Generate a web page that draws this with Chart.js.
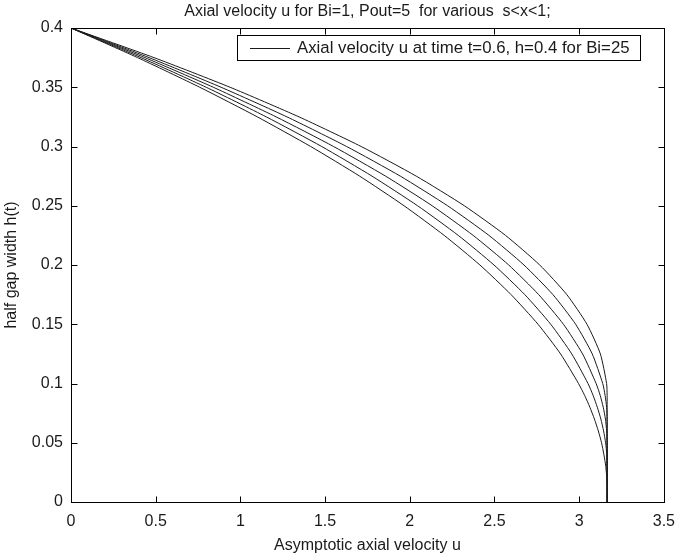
<!DOCTYPE html>
<html>
<head>
<meta charset="utf-8">
<script src="https://cdn.jsdelivr.net/npm/chart.js@4.4.1/dist/chart.umd.min.js"></script>
<style>
  body { margin: 0; background: #fff; }
  #wrap { width: 685px; height: 557px; }
</style>
</head>
<body>
<div id="wrap"><canvas id="grafico" width="685" height="557"></canvas></div>
<script>
// half gap width levels (y) shared by every curve
var alturas = [0.4, 0.375, 0.35, 0.325, 0.3, 0.275, 0.25, 0.225, 0.2, 0.175, 0.15, 0.125,
               0.1, 0.09, 0.08, 0.07, 0.06, 0.05, 0.04, 0.03, 0.02, 0.01, 0];

// axial velocity u (inner to outer)
var curva1 = [0, 0.393, 0.760, 1.100, 1.415, 1.704, 1.966, 2.203, 2.414, 2.598, 2.757, 2.890,
              2.996, 3.032, 3.063, 3.090, 3.113, 3.132, 3.146, 3.157, 3.163, 3.165, 3.165];
var curva2 = [0, 0.413, 0.798, 1.153, 1.480, 1.777, 2.046, 2.286, 2.497, 2.679, 2.832, 2.956,
              3.052, 3.082, 3.107, 3.128, 3.144, 3.156, 3.163, 3.165, 3.165, 3.165, 3.165];
var curva3 = [0, 0.436, 0.840, 1.211, 1.550, 1.857, 2.132, 2.374, 2.584, 2.761, 2.907, 3.020,
              3.100, 3.124, 3.142, 3.155, 3.162, 3.165, 3.165, 3.165, 3.165, 3.165, 3.165];
var curva4 = [0, 0.461, 0.886, 1.275, 1.627, 1.944, 2.223, 2.467, 2.674, 2.845, 2.979, 3.077,
              3.139, 3.153, 3.162, 3.165, 3.165, 3.165, 3.165, 3.165, 3.165, 3.165, 3.165];
var curva5 = [0, 0.490, 0.939, 1.346, 1.713, 2.038, 2.322, 2.565, 2.767, 2.927, 3.046, 3.125,
              3.162, 3.165, 3.165, 3.165, 3.165, 3.165, 3.165, 3.165, 3.165, 3.165, 3.165];

var ticksX = [0, 0.5, 1, 1.5, 2, 2.5, 3, 3.5];
var ticksY = [0, 0.05, 0.1, 0.15, 0.2, 0.25, 0.3, 0.35, 0.4];

var titulo = 'Axial velocity u for Bi=1, Pout=5  for various  s<x<1;';
var legenda = 'Axial velocity u at time t=0.6, h=0.4 for Bi=25';
var tituloX = 'Asymptotic axial velocity u';
var tituloY = 'half gap width h(t)';

var fonte = '"Liberation Sans", Arial, Helvetica, sans-serif';

function pontos(us) {
  return us.map(function(u, i) { return { x: u, y: alturas[i] }; });
}

var datasets = [curva1, curva2, curva3, curva4, curva5].map(function(c) {
  return {
    data: pontos(c),
    borderColor: '#1a1a1a',
    borderWidth: 1,
    pointRadius: 0,
    tension: 0.2,
    fill: false
  };
});

// MATLAB-like box, inward ticks, title and legend
var caixa = {
  id: 'caixa',
  afterDraw: function(chart) {
    var ctx = chart.ctx, a = chart.chartArea;
    var sx = chart.scales.x, sy = chart.scales.y;
    ctx.save();
    ctx.strokeStyle = '#000';
    ctx.lineWidth = 1;
    var L = Math.round(a.left) + 0.5, R = Math.round(a.right) + 0.5;
    var T = Math.round(a.top) + 0.5, B = Math.round(a.bottom) + 0.5;
    ctx.strokeRect(L, T, R - L, B - T);
    ctx.beginPath();
    ticksX.forEach(function(v) {
      var p = Math.round(sx.getPixelForValue(v)) + 0.5;
      ctx.moveTo(p, B); ctx.lineTo(p, B - 6);
      ctx.moveTo(p, T); ctx.lineTo(p, T + 6);
    });
    ticksY.forEach(function(v) {
      var p = Math.round(sy.getPixelForValue(v)) + 0.5;
      ctx.moveTo(L, p); ctx.lineTo(L + 6, p);
      ctx.moveTo(R, p); ctx.lineTo(R - 6, p);
    });
    ctx.stroke();

    ctx.fillStyle = '#1a1a1a';
    ctx.font = '16px ' + fonte;
    ctx.textAlign = 'center';
    ctx.textBaseline = 'middle';
    ctx.fillText(titulo, (a.left + a.right) / 2, 12);

    // legend box inside the axes
    ctx.fillStyle = '#fff';
    ctx.fillRect(237.5, 35.5, 403, 25);
    ctx.strokeRect(237.5, 35.5, 403, 25);
    ctx.beginPath();
    ctx.moveTo(250, 48.5); ctx.lineTo(290, 48.5);
    ctx.strokeStyle = '#1a1a1a';
    ctx.stroke();
    ctx.fillStyle = '#1a1a1a';
    ctx.font = '16.8px ' + fonte;
    ctx.textAlign = 'left';
    ctx.fillText(legenda, 297, 48);
    ctx.restore();
  }
};

var grafico = new Chart(document.getElementById('grafico').getContext('2d'), {
  type: 'line',
  data: { datasets: datasets },
  plugins: [caixa],
  options: {
    responsive: false,
    animation: false,
    devicePixelRatio: 1,
    layout: { padding: { top: 28, right: 16, left: 0, bottom: 0 } },
    plugins: { legend: { display: false }, tooltip: { enabled: false } },
    scales: {
      x: {
        type: 'linear',
        min: 0, max: 3.5,
        afterBuildTicks: function(s) { s.ticks = ticksX.map(function(v) { return { value: v }; }); },
        afterFit: function(s) { s.height = 55; },
        grid: { display: false, drawTicks: false },
        border: { display: false },
        ticks: {
          padding: 10,
          maxRotation: 0,
          color: '#1a1a1a',
          font: { family: fonte, size: 16 },
          callback: function(v) { return String(Math.round(v * 100) / 100); }
        },
        title: {
          display: true, text: tituloX, color: '#1a1a1a',
          font: { family: fonte, size: 16 },
          padding: { top: 0, bottom: 2 }
        }
      },
      y: {
        type: 'linear',
        min: 0, max: 0.4,
        afterBuildTicks: function(s) { s.ticks = ticksY.map(function(v) { return { value: v }; }); },
        afterFit: function(s) { s.width = 71; },
        grid: { display: false, drawTicks: false },
        border: { display: false },
        ticks: {
          padding: 8,
          color: '#1a1a1a',
          font: { family: fonte, size: 16 },
          callback: function(v) { return String(Math.round(v * 100) / 100); }
        },
        title: {
          display: true, text: tituloY, color: '#1a1a1a',
          font: { family: fonte, size: 16 },
          padding: { top: 2, bottom: 0 }
        }
      }
    }
  }
});
</script>
</body>
</html>
